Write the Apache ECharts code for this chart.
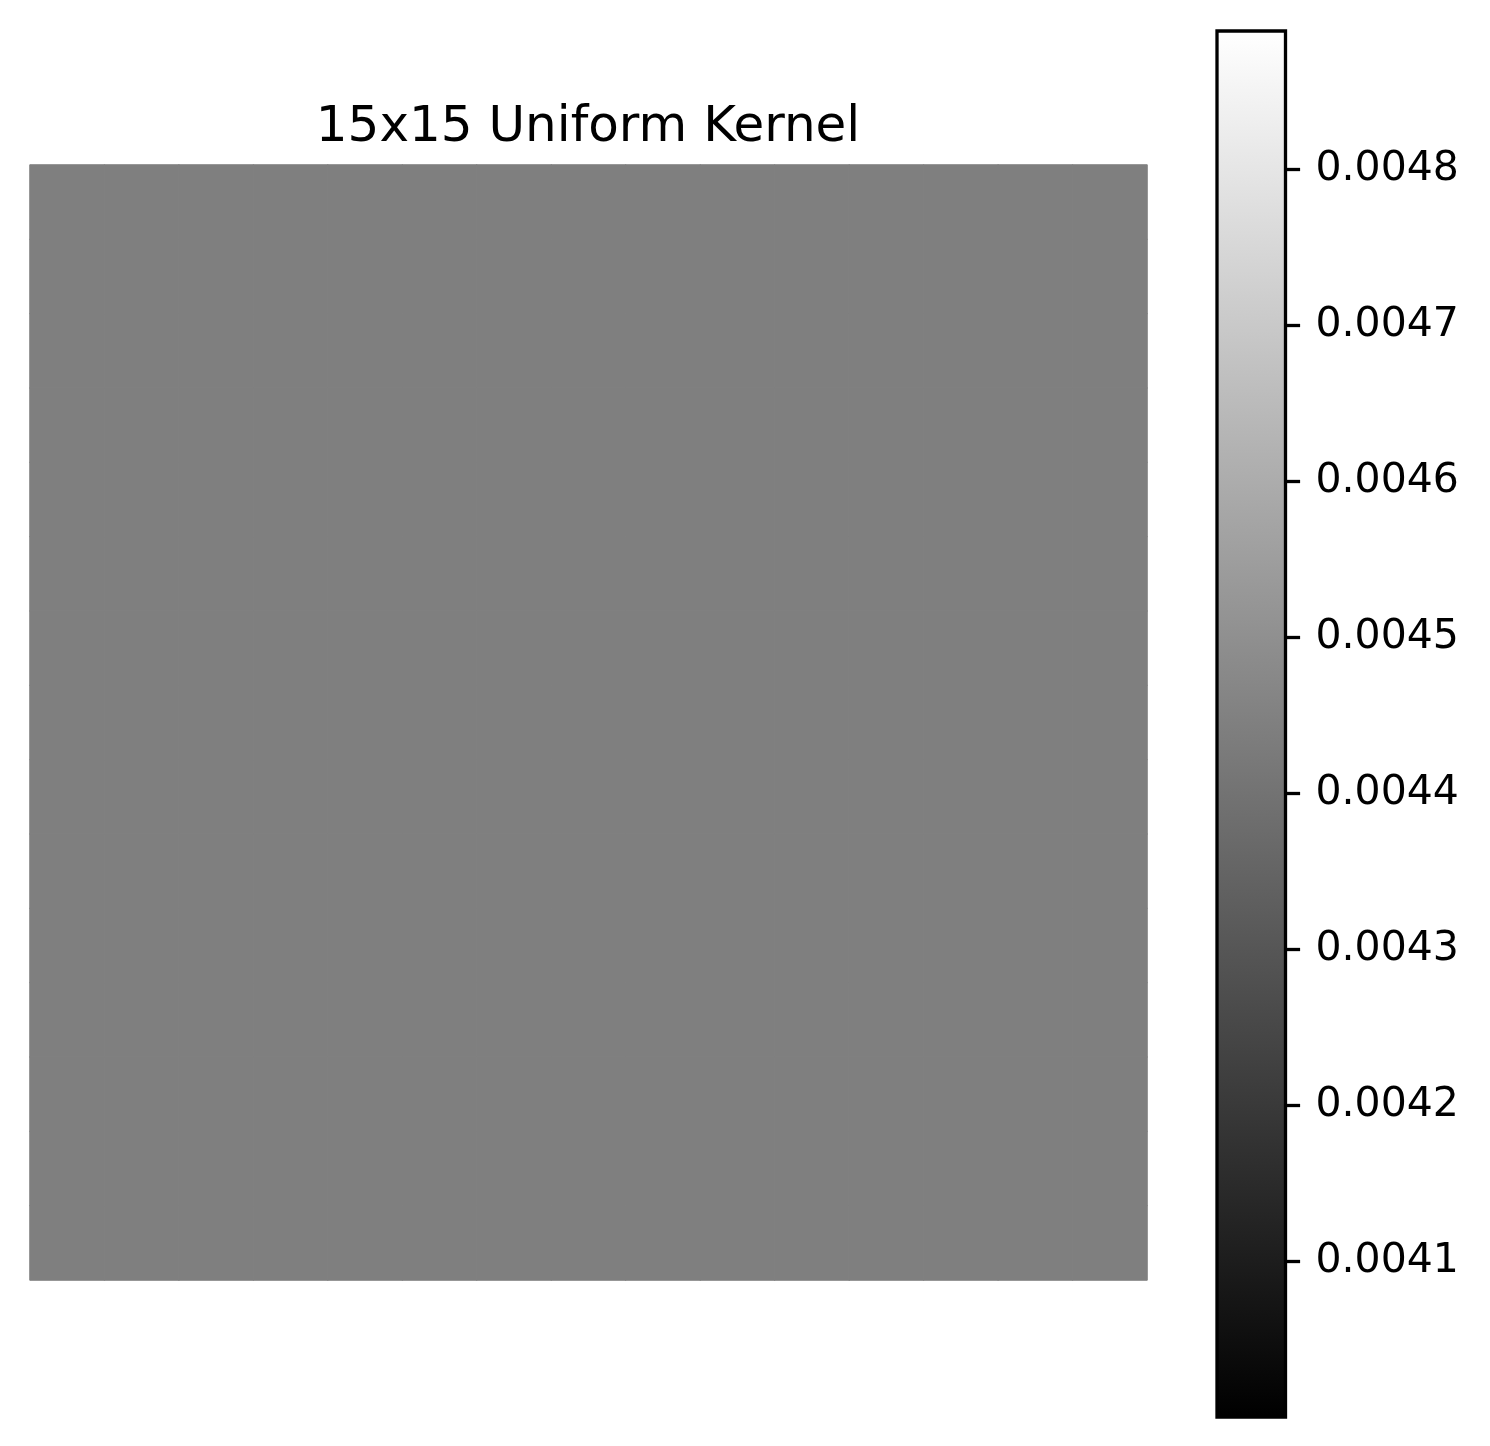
<!DOCTYPE html>
<html>
<head>
<meta charset="utf-8">
<script src="https://cdn.jsdelivr.net/npm/echarts@6/dist/echarts.min.js"></script>
<style>
  html, body { margin: 0; padding: 0; background: #fff; }
  #chart { width: 1490px; height: 1446px; }
</style>
</head>
<body>
<div id="chart"></div>
<script>
// 15x15 uniform kernel, every cell = 1/225
const kernel = [
  [0.0044444, 0.0044444, 0.0044444, 0.0044444, 0.0044444, 0.0044444, 0.0044444, 0.0044444, 0.0044444, 0.0044444, 0.0044444, 0.0044444, 0.0044444, 0.0044444, 0.0044444],
  [0.0044444, 0.0044444, 0.0044444, 0.0044444, 0.0044444, 0.0044444, 0.0044444, 0.0044444, 0.0044444, 0.0044444, 0.0044444, 0.0044444, 0.0044444, 0.0044444, 0.0044444],
  [0.0044444, 0.0044444, 0.0044444, 0.0044444, 0.0044444, 0.0044444, 0.0044444, 0.0044444, 0.0044444, 0.0044444, 0.0044444, 0.0044444, 0.0044444, 0.0044444, 0.0044444],
  [0.0044444, 0.0044444, 0.0044444, 0.0044444, 0.0044444, 0.0044444, 0.0044444, 0.0044444, 0.0044444, 0.0044444, 0.0044444, 0.0044444, 0.0044444, 0.0044444, 0.0044444],
  [0.0044444, 0.0044444, 0.0044444, 0.0044444, 0.0044444, 0.0044444, 0.0044444, 0.0044444, 0.0044444, 0.0044444, 0.0044444, 0.0044444, 0.0044444, 0.0044444, 0.0044444],
  [0.0044444, 0.0044444, 0.0044444, 0.0044444, 0.0044444, 0.0044444, 0.0044444, 0.0044444, 0.0044444, 0.0044444, 0.0044444, 0.0044444, 0.0044444, 0.0044444, 0.0044444],
  [0.0044444, 0.0044444, 0.0044444, 0.0044444, 0.0044444, 0.0044444, 0.0044444, 0.0044444, 0.0044444, 0.0044444, 0.0044444, 0.0044444, 0.0044444, 0.0044444, 0.0044444],
  [0.0044444, 0.0044444, 0.0044444, 0.0044444, 0.0044444, 0.0044444, 0.0044444, 0.0044444, 0.0044444, 0.0044444, 0.0044444, 0.0044444, 0.0044444, 0.0044444, 0.0044444],
  [0.0044444, 0.0044444, 0.0044444, 0.0044444, 0.0044444, 0.0044444, 0.0044444, 0.0044444, 0.0044444, 0.0044444, 0.0044444, 0.0044444, 0.0044444, 0.0044444, 0.0044444],
  [0.0044444, 0.0044444, 0.0044444, 0.0044444, 0.0044444, 0.0044444, 0.0044444, 0.0044444, 0.0044444, 0.0044444, 0.0044444, 0.0044444, 0.0044444, 0.0044444, 0.0044444],
  [0.0044444, 0.0044444, 0.0044444, 0.0044444, 0.0044444, 0.0044444, 0.0044444, 0.0044444, 0.0044444, 0.0044444, 0.0044444, 0.0044444, 0.0044444, 0.0044444, 0.0044444],
  [0.0044444, 0.0044444, 0.0044444, 0.0044444, 0.0044444, 0.0044444, 0.0044444, 0.0044444, 0.0044444, 0.0044444, 0.0044444, 0.0044444, 0.0044444, 0.0044444, 0.0044444],
  [0.0044444, 0.0044444, 0.0044444, 0.0044444, 0.0044444, 0.0044444, 0.0044444, 0.0044444, 0.0044444, 0.0044444, 0.0044444, 0.0044444, 0.0044444, 0.0044444, 0.0044444],
  [0.0044444, 0.0044444, 0.0044444, 0.0044444, 0.0044444, 0.0044444, 0.0044444, 0.0044444, 0.0044444, 0.0044444, 0.0044444, 0.0044444, 0.0044444, 0.0044444, 0.0044444],
  [0.0044444, 0.0044444, 0.0044444, 0.0044444, 0.0044444, 0.0044444, 0.0044444, 0.0044444, 0.0044444, 0.0044444, 0.0044444, 0.0044444, 0.0044444, 0.0044444, 0.0044444]
];
const cols = ['0', '1', '2', '3', '4', '5', '6', '7', '8', '9', '10', '11', '12', '13', '14'];
const rows = ['0', '1', '2', '3', '4', '5', '6', '7', '8', '9', '10', '11', '12', '13', '14'];

// colour scale range and colorbar ticks
const cbarMin = 0.004;
const cbarMax = 0.0048889;
const cbarTicks = [0.0041, 0.0042, 0.0043, 0.0044, 0.0045, 0.0046, 0.0047, 0.0048];

const cells = [];
kernel.forEach((row, r) => row.forEach((v, c) => cells.push([c, r, v])));

const font = 'DejaVu Sans';
const chart = echarts.init(document.getElementById('chart'));

chart.setOption({
  backgroundColor: '#fff',
  animation: false,
  title: {
    text: '15x15 Uniform Kernel',
    left: 588,
    top: 103,
    padding: 0,
    textAlign: 'center',
    textStyle: { fontFamily: font, fontSize: 50, fontWeight: 'normal', color: '#000' }
  },
  grid: [
    { left: 30, top: 165, width: 1117, height: 1115 },
    // colorbar frame drawn above the gradient bar
    { left: 1217, top: 31, width: 68.5, height: 1386, show: true, z: 5, borderColor: '#000', borderWidth: 3.3, backgroundColor: 'transparent' }
  ],
  xAxis: [
    { type: 'category', gridIndex: 0, data: cols, show: false },
    { type: 'category', gridIndex: 1, data: ['c'], show: false }
  ],
  yAxis: [
    { type: 'category', gridIndex: 0, data: rows, inverse: true, show: false },
    {
      type: 'value', gridIndex: 1, position: 'right',
      min: cbarMin, max: cbarMax,
      splitLine: { show: false },
      axisLine: { show: false },
      axisTick: { show: true, inside: false, length: 14.6, lineStyle: { color: '#000', width: 3.3 }, customValues: cbarTicks },
      axisLabel: {
        show: true, margin: 30, color: '#000', fontFamily: font, fontSize: 41,
        padding: [4, 0, 0, 0],
        customValues: cbarTicks,
        formatter: v => v.toFixed(4)
      }
    }
  ],
  visualMap: {
    type: 'continuous', show: false, seriesIndex: 0,
    min: cbarMin, max: cbarMax,
    inRange: { color: ['#000000', '#ffffff'] }
  },
  series: [
    {
      type: 'heatmap', xAxisIndex: 0, yAxisIndex: 0,
      data: cells,
      itemStyle: { borderWidth: 1, borderColor: '#808080' },
      emphasis: { disabled: true }
    },
    {
      type: 'bar', xAxisIndex: 1, yAxisIndex: 1, stack: 'cb', barWidth: '100%',
      data: [cbarMin],
      itemStyle: { color: 'rgba(0,0,0,0)' },
      silent: true
    },
    {
      type: 'bar', xAxisIndex: 1, yAxisIndex: 1, stack: 'cb', barWidth: '100%',
      data: [cbarMax - cbarMin],
      itemStyle: {
        color: new echarts.graphic.LinearGradient(0, 1, 0, 0, [
          { offset: 0, color: '#000000' },
          { offset: 1, color: '#ffffff' }
        ])
      },
      silent: true
    }
  ]
});
</script>
</body>
</html>
